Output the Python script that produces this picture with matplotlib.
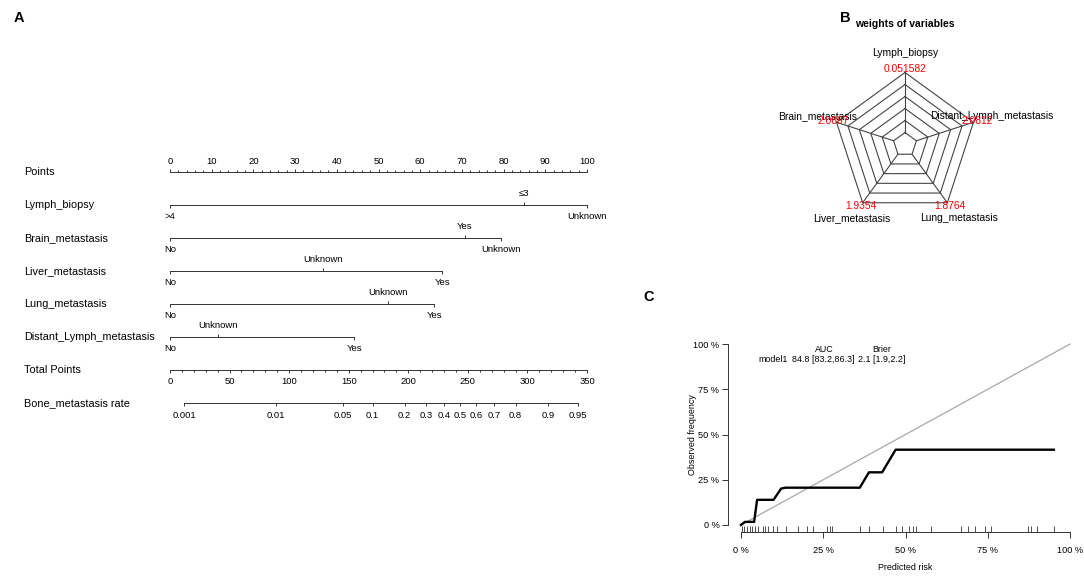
import matplotlib
matplotlib.use("Agg")
import matplotlib.pyplot as plt
import matplotlib.transforms as mtransforms
import numpy as np

plt.rcParams['font.family'] = ['Liberation Sans', 'DejaVu Sans']

W, H = 1084, 577

# ---- A: nomogram
points_ticks = list(range(0, 101, 10))
points_minor = list(range(0, 101, 2))
nomo_vars = ["Lymph_biopsy", "Brain_metastasis", "Liver_metastasis",
             "Lung_metastasis", "Distant_Lymph_metastasis"]
nomo_levels = [[">4", "\u22643", "Unknown"],
               ["No", "Yes", "Unknown"],
               ["No", "Unknown", "Yes"],
               ["No", "Unknown", "Yes"],
               ["No", "Unknown", "Yes"]]
nomo_points = [[0, 85, 100],
               [0, 70.7, 79.3],
               [0, 36.8, 65.3],
               [0, 52.3, 63.4],
               [0, 11.4, 44.2]]
total_ticks = list(range(0, 351, 50))
total_minor = list(range(0, 351, 10))
total_max = 350
rate_labels = ["0.001", "0.01", "0.05", "0.1", "0.2", "0.3", "0.4", "0.5",
               "0.6", "0.7", "0.8", "0.9", "0.95"]
rate_total_points = [12, 89, 145, 170, 197, 215, 230, 243.5, 257, 272, 290,
                     317.5, 342.5]

# ---- B: radar of weights
radar_vars = ["Lymph_biopsy", "Distant_Lymph_metastasis", "Lung_metastasis",
              "Liver_metastasis", "Brain_metastasis"]
radar_weights = [0.051582, 2.0812, 1.8764, 1.9354, 2.0897]
radar_rings = 6

# ---- C: calibration
calib_x = [0, 1.2, 4.0, 4.9, 9.9, 12.2, 13.5, 36.1, 38.9, 42.9, 47.0, 95.1]
calib_y = [0, 1.7, 1.7, 13.9, 13.9, 20.1, 20.6, 20.6, 29.1, 29.1, 41.6, 41.6]
rug_x = [0.2, 1.0, 1.8, 2.6, 3.4, 4.3, 5.3, 6.6, 7.4, 8.2, 9.6, 11.1, 13.7,
         17.2, 20.1, 22.0, 26.1, 27.0, 27.8, 36.2, 39.0, 43.1, 47.1, 48.8,
         51.0, 52.3, 53.1, 57.9, 66.9, 69.0, 71.0, 74.1, 75.9, 87.3, 88.0,
         90.1, 95.1]
calib_ticks = [0, 25, 50, 75, 100]

fig = plt.figure(figsize=(W / 100, H / 100), dpi=100)


def px_axes(left, top, right, bottom):
    return fig.add_axes([left / W, 1 - bottom / H, (right - left) / W, (bottom - top) / H])


def fig_text(x, y, s, **kw):
    kw.setdefault('ha', 'center')
    kw.setdefault('va', 'center')
    fig.text(x / W, 1 - y / H, s, **kw)


line_col = '#333333'
lw = 0.7

# ================= panel A
axA = px_axes(170, 172, 587, 403)
axA.set_xlim(0, 100)
axA.set_ylim(7, 0)
axA.axis('off')
row_px = 33.0
tA = mtransforms.blended_transform_factory(fig.transFigure, axA.transData)


def hline(x0, x1, y):
    axA.plot([x0, x1], [y, y], color=line_col, lw=lw, clip_on=False)


def tick(x, y, length, up):
    d = -length / row_px if up else length / row_px
    axA.plot([x, x], [y, y + d], color=line_col, lw=lw, solid_capstyle='butt',
             clip_on=False)


row_names = ["Points"] + nomo_vars + ["Total Points", "Bone_metastasis rate"]
for i, name in enumerate(row_names):
    axA.text(24 / W, i, name, transform=tA, ha='left', va='center', fontsize=7.8)

# points axis
hline(0, 100, 0)
for v in points_minor:
    tick(v, 0, 3 if v in points_ticks else 2, True)
for v in points_ticks:
    axA.text(v, -10 / row_px, str(v), ha='center', va='center', fontsize=6.8)

# variables
for i in range(len(nomo_vars)):
    y = i + 1
    pts = nomo_points[i]
    hline(min(pts), max(pts), y)
    order = np.argsort(pts)
    for j, k in enumerate(order):
        up = (j % 2 == 1)
        tick(pts[k], y, 3, up)
        off = -11.5 if up else 11.5
        axA.text(pts[k], y + off / row_px, nomo_levels[i][k], ha='center',
                 va='center', fontsize=6.8)

# total points
y = 6
hline(0, 100, y)
for v in total_minor:
    tick(v * 100 / total_max, y, 3 if v in total_ticks else 2, False)
for v in total_ticks:
    axA.text(v * 100 / total_max, y + 12 / row_px, str(v), ha='center',
             va='center', fontsize=6.8)

# probability axis
y = 7
rp = [v * 100 / total_max for v in rate_total_points]
hline(rp[0], rp[-1], y)
for x, lab in zip(rp, rate_labels):
    tick(x, y, 3, False)
    axA.text(x, y + 12 / row_px, lab, ha='center', va='center', fontsize=6.8)

# ================= panel B
cx, cy, R = 905, 144.5, 72
axB = px_axes(cx - 100, cy - 100, cx + 100, cy + 100)
axB.set_xlim(-100, 100)
axB.set_ylim(-100, 100)
axB.axis('off')
ang = np.deg2rad(90 - 72 * np.arange(len(radar_vars)))
ring_col = '#444444'
for k in range(1, radar_rings + 1):
    r = R * k / radar_rings
    xs = np.append(r * np.cos(ang), r * np.cos(ang[0]))
    ys = np.append(r * np.sin(ang), r * np.sin(ang[0]))
    axB.plot(xs, ys, color=ring_col, lw=0.8)
for a in ang:
    axB.plot([R / radar_rings * np.cos(a), R * np.cos(a)],
             [R / radar_rings * np.sin(a), R * np.sin(a)], color=ring_col, lw=0.8)
for a, name, w in zip(ang, radar_vars, radar_weights):
    axB.text(1.27 * R * np.cos(a), 1.27 * R * np.sin(a), name, ha='center',
             va='center', fontsize=7.4, clip_on=False)
    axB.text(1.05 * R * np.cos(a), 1.05 * R * np.sin(a), f"{w:g}", ha='center',
             va='center', fontsize=7.4, color='#ff0000', clip_on=False)
fig_text(905, 24, "weights of variables", fontsize=7.5, fontweight='bold')

# ================= panel C
axC = px_axes(727.8, 336.8, 1083.2, 532.2)
axC.set_xlim(-0.04, 1.04)
axC.set_ylim(-0.04, 1.04)
for s in ['top', 'right']:
    axC.spines[s].set_visible(False)
for s in ['left', 'bottom']:
    axC.spines[s].set_bounds(0, 1)
    axC.spines[s].set_linewidth(0.7)
    axC.spines[s].set_color(line_col)
tv = [t / 100 for t in calib_ticks]
tl = [f"{t} %" for t in calib_ticks]
axC.set_xticks(tv, tl)
axC.set_yticks(tv, tl)
axC.tick_params(length=4, width=0.7, color=line_col, labelsize=6.6, pad=2)
axC.tick_params(axis='x', pad=6)
axC.plot([0, 1], [0, 1], color='#a8a8a8', lw=0.9)
axC.plot([v / 100 for v in calib_x], [v / 100 for v in calib_y], color='black', lw=1.7)
axC.vlines([v / 100 for v in rug_x], -0.04, -0.04 + 0.0324, color=line_col, lw=0.6)
axC.text(0.253, 0.972, "AUC", ha='center', va='center', fontsize=6.4)
axC.text(0.428, 0.972, "Brier", ha='center', va='center', fontsize=6.4)
axC.text(0.098, 0.917, "model1", ha='center', va='center', fontsize=6.4)
axC.text(0.251, 0.917, "84.8 [83.2,86.3]", ha='center', va='center', fontsize=6.4)
axC.text(0.428, 0.917, "2.1 [1.9,2.2]", ha='center', va='center', fontsize=6.4)
fig_text(905, 568, "Predicted risk", fontsize=6.4)
fig_text(693, 435, "Observed frequency", fontsize=6.4, rotation=90)

# panel letters
fig_text(19, 18, "A", fontsize=10.5, fontweight='bold')
fig_text(845, 18, "B", fontsize=10.5, fontweight='bold')
fig_text(649, 297, "C", fontsize=10.5, fontweight='bold')

fig.savefig("out.png", dpi=100)
